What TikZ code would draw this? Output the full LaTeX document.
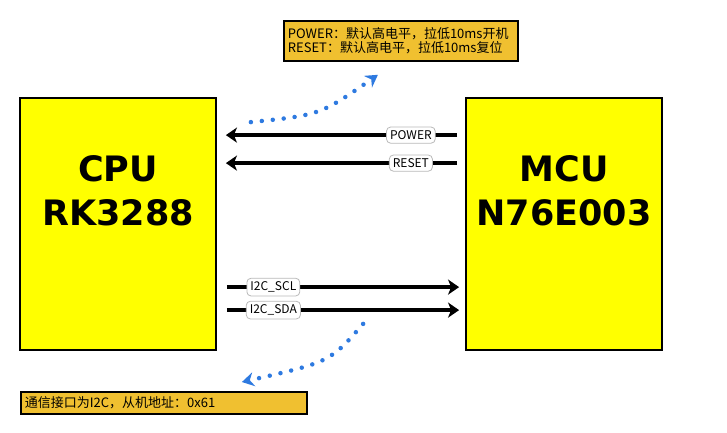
\documentclass[tikz,border=0pt]{standalone}
\usepackage{fontspec}
\setmainfont{Noto Sans CJK SC}
\newfontfamily\chipfont{DejaVu Sans}
\usetikzlibrary{arrows.meta}
\definecolor{chipyellow}{RGB}{255,255,0}
\definecolor{noteorange}{RGB}{240,192,48}
\definecolor{hintblue}{RGB}{46,122,224}

\begin{document}
\begin{tikzpicture}[x=1pt,y=-1pt,
  chip/.style={draw=black,line width=1.8pt,fill=chipyellow,minimum width=196pt,minimum height=252pt},
  chipname/.style={align=center,font=\chipfont\bfseries\fontsize{35}{44}\selectfont},
  note/.style={draw=black,line width=1.8pt,fill=noteorange,align=left,anchor=north west,inner xsep=4pt,inner ysep=3pt,font=\fontsize{13}{14}\selectfont},
  sig/.style={line width=3.4pt,-{Stealth[length=11pt,width=15pt,inset=3pt]}},
  lbl/.style={draw=gray!55,line width=0.8pt,fill=white,rounded corners=4pt,inner xsep=3.5pt,inner ysep=3.5pt,font=\fontsize{12}{13}\selectfont},
  hint/.style={hintblue,line width=4.5pt,line cap=round,dash pattern=on 0pt off 11pt,-{Stealth[length=12pt,width=14pt]}}]
\useasboundingbox (0,0) rectangle (727,432);

\node[chip] (cpu) at (118,224) {};
\node[chip] (mcu) at (564,224) {};
\node[chipname] (cpuname) at ([yshift=33pt]cpu.center) {CPU\\RK3288};
\node[chipname] (mcuname) at ([yshift=33pt]mcu.center) {MCU\\N76E003};

\node[note,text width=226pt,minimum height=40pt] (note1) at (283,20)
  {POWER：默认高电平，拉低10ms开机\\RESET：默认高电平，拉低10ms复位};
\node[note,text width=278pt,minimum height=22pt] (note2) at (20,391)
  {通信接口为I2C，从机地址：0x61};

\draw[sig] ([xshift=-8pt,yshift=-38pt]mcu.north west) -- ([xshift=9pt,yshift=-38pt]cpu.north east)
  node[lbl,pos=0.2] (power) {POWER};
\draw[sig] ([xshift=-8pt,yshift=-66pt]mcu.north west) -- ([xshift=9pt,yshift=-66pt]cpu.north east)
  node[lbl,pos=0.2] (reset) {RESET};
\draw[sig] ([xshift=10pt,yshift=-190pt]cpu.north east) -- ([xshift=-6pt,yshift=-190pt]mcu.north west)
  node[lbl,pos=0.2] (scl) {I2C\_SCL};
\draw[sig] ([xshift=10pt,yshift=-213pt]cpu.north east) -- ([xshift=-6pt,yshift=-213pt]mcu.north west)
  node[lbl,pos=0.2] (sda) {I2C\_SDA};

\draw[hint] ([xshift=34pt,yshift=-25pt]cpu.north east) .. controls (320,115) .. ([xshift=-23pt,yshift=-13pt]note1.south);
\draw[hint] ([xshift=-102pt,yshift=27pt]mcu.south west) .. controls (330,362) .. ([xshift=78pt,yshift=9pt]note2.north);
\end{tikzpicture}
\end{document}
